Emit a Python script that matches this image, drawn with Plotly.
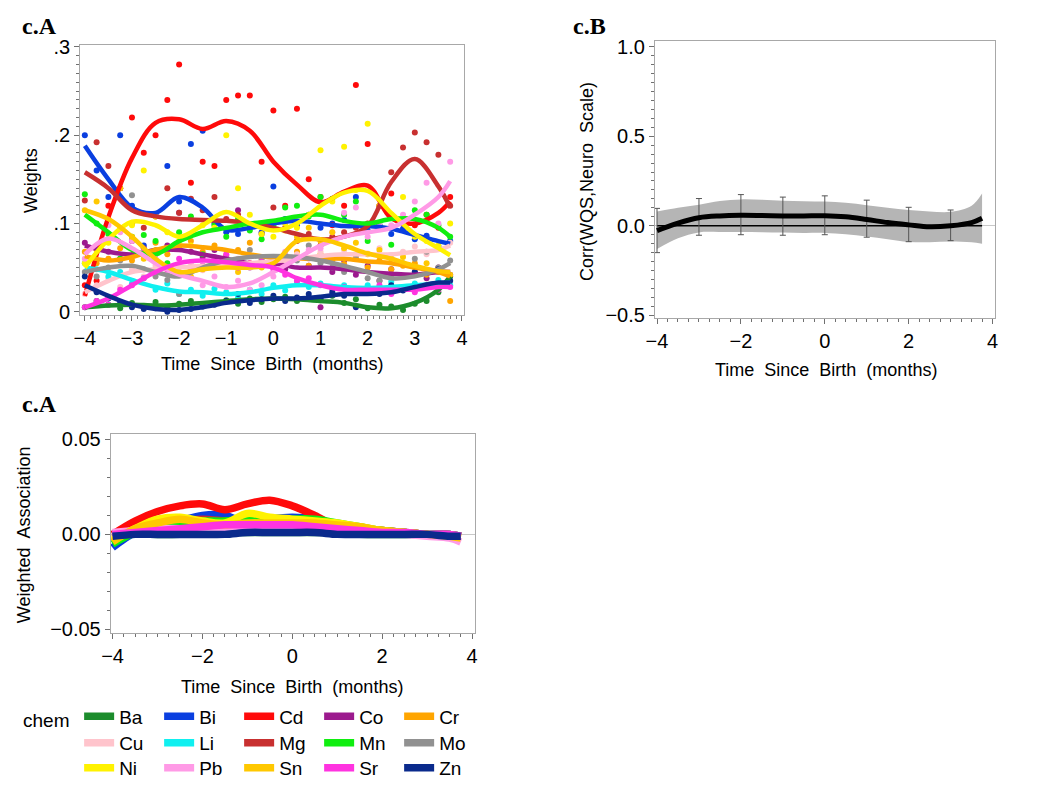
import plotly.graph_objects as go

# ---------------- data ----------------
CHEMS = ["Ba", "Bi", "Cd", "Co", "Cr", "Cu", "Li", "Mg", "Mn", "Mo", "Ni", "Pb", "Sn", "Sr", "Zn"]
COLORS = ["#1c8c2c", "#0a3fe0", "#ff0a0a", "#9c1a8e", "#ffa500", "#ffc4cc", "#10f0f0", "#c83030",
          "#10ee10", "#919191", "#fff200", "#ff9ae6", "#ffc800", "#ff33e0", "#0a2a8c"]

# time grid of the smoothed curves (months)
T_CURVE = [-4, -3.5, -3, -2.5, -2, -1.5, -1, -0.5, 0, 0.5, 1, 1.5, 2, 2.5, 3, 3.5, 3.75]
# time grid of the weight estimates (points)
T_PTS = [-4, -3.75, -3.5, -3.25, -3, -2.75, -2.5, -2.25, -2, -1.75, -1.5, -1.25, -1, -0.75, -0.5, -0.25,
         0, 0.25, 0.5, 0.75, 1, 1.25, 1.5, 1.75, 2, 2.25, 2.5, 2.75, 3, 3.25, 3.5, 3.75]

# smoothed weights (panel c.A top)
CURVE_BA = [0.005, 0.007, 0.008, 0.007, 0.008, 0.010, 0.012, 0.014, 0.015, 0.014, 0.012, 0.010, 0.005, 0.004, 0.010, 0.025, 0.040]
CURVE_BI = [0.188, 0.150, 0.118, 0.112, 0.130, 0.118, 0.093, 0.095, 0.100, 0.103, 0.100, 0.097, 0.097, 0.094, 0.087, 0.080, 0.077]
CURVE_CD = [0.018, 0.107, 0.174, 0.214, 0.218, 0.207, 0.216, 0.205, 0.170, 0.144, 0.124, 0.136, 0.143, 0.106, 0.100, 0.112, 0.125]
CURVE_CO = [0.075, 0.068, 0.065, 0.070, 0.070, 0.065, 0.060, 0.055, 0.055, 0.050, 0.050, 0.048, 0.045, 0.043, 0.042, 0.045, 0.045]
CURVE_CR = [0.063, 0.058, 0.062, 0.070, 0.075, 0.073, 0.070, 0.065, 0.061, 0.060, 0.060, 0.060, 0.057, 0.055, 0.050, 0.045, 0.040]
CURVE_CU = [0.022, 0.035, 0.045, 0.048, 0.050, 0.052, 0.053, 0.055, 0.057, 0.060, 0.063, 0.065, 0.065, 0.065, 0.068, 0.070, 0.075]
CURVE_LI = [0.050, 0.045, 0.036, 0.028, 0.023, 0.022, 0.020, 0.022, 0.027, 0.030, 0.030, 0.028, 0.027, 0.028, 0.030, 0.032, 0.033]
CURVE_MG = [0.158, 0.140, 0.115, 0.108, 0.105, 0.104, 0.103, 0.100, 0.095, 0.088, 0.082, 0.085, 0.097, 0.147, 0.173, 0.142, 0.118]
CURVE_MN = [0.110, 0.090, 0.070, 0.065, 0.080, 0.090, 0.095, 0.100, 0.103, 0.108, 0.110, 0.103, 0.100, 0.105, 0.105, 0.095, 0.085]
CURVE_MO = [0.045, 0.050, 0.052, 0.045, 0.040, 0.050, 0.058, 0.062, 0.063, 0.062, 0.058, 0.052, 0.045, 0.038, 0.040, 0.048, 0.055]
CURVE_NI = [0.050, 0.082, 0.102, 0.098, 0.085, 0.098, 0.113, 0.100, 0.092, 0.100, 0.120, 0.135, 0.137, 0.112, 0.088, 0.072, 0.064]
CURVE_PB = [0.065, 0.083, 0.072, 0.055, 0.042, 0.035, 0.028, 0.032, 0.045, 0.060, 0.075, 0.085, 0.090, 0.095, 0.110, 0.130, 0.148]
CURVE_SN = [0.115, 0.105, 0.085, 0.060, 0.045, 0.048, 0.050, 0.050, 0.055, 0.080, 0.082, 0.075, 0.066, 0.060, 0.052, 0.046, 0.045]
CURVE_SR = [0.005, 0.015, 0.030, 0.045, 0.055, 0.058, 0.056, 0.053, 0.050, 0.038, 0.030, 0.025, 0.025, 0.025, 0.025, 0.028, 0.028]
CURVE_ZN = [0.030, 0.018, 0.008, 0.003, 0.002, 0.005, 0.010, 0.013, 0.015, 0.015, 0.017, 0.020, 0.020, 0.022, 0.028, 0.033, 0.033]

# estimated weights (points)
POINTS_BA = [0.005, 0.012, 0.008, 0.004, 0.010, 0.006, 0.011, 0.005, 0.009, 0.012, 0.007, 0.010, 0.013, 0.009, 0.015, 0.011,
             0.014, 0.017, 0.012, 0.016, 0.013, 0.018, 0.010, 0.014, 0.004, 0.008, 0.006, 0.002, 0.009, 0.012, 0.022, 0.040]
POINTS_BI = [0.200, 0.160, 0.130, 0.200, 0.120, 0.075, 0.110, 0.165, 0.125, 0.190, 0.205, 0.100, 0.090, 0.088, 0.098, 0.090,
             0.142, 0.105, 0.098, 0.110, 0.095, 0.100, 0.104, 0.130, 0.092, 0.098, 0.088, 0.094, 0.082, 0.086, 0.074, 0.080]
POINTS_CD = [0.030, 0.035, 0.120, 0.140, 0.220, 0.180, 0.200, 0.240, 0.280, 0.146, 0.170, 0.165, 0.240, 0.245, 0.245, 0.170,
             0.228, 0.120, 0.230, 0.150, 0.130, 0.098, 0.120, 0.257, 0.190, 0.120, 0.134, 0.100, 0.098, 0.110, 0.095, 0.130]
POINTS_CO = [0.078, 0.072, 0.068, 0.060, 0.080, 0.072, 0.065, 0.075, 0.112, 0.068, 0.062, 0.070, 0.058, 0.115, 0.050, 0.062,
             0.055, 0.048, 0.060, 0.052, 0.005, 0.045, 0.058, 0.042, 0.052, 0.035, 0.048, 0.040, 0.045, 0.038, 0.050, 0.042]
POINTS_CR = [0.068, 0.055, 0.060, 0.072, 0.058, 0.068, 0.078, 0.065, 0.072, 0.080, 0.068, 0.075, 0.064, 0.070, 0.078, 0.058,
             0.062, 0.055, 0.068, 0.052, 0.065, 0.058, 0.054, 0.062, 0.050, 0.058, 0.048, 0.052, 0.055, 0.042, 0.048, 0.012]
POINTS_CU = [0.020, 0.030, 0.038, 0.028, 0.048, 0.040, 0.052, 0.045, 0.050, 0.055, 0.047, 0.058, 0.052, 0.060, 0.050, 0.058,
             0.062, 0.055, 0.065, 0.060, 0.068, 0.062, 0.070, 0.060, 0.066, 0.072, 0.062, 0.068, 0.074, 0.065, 0.072, 0.078]
POINTS_LI = [0.055, 0.048, 0.040, 0.045, 0.032, 0.038, 0.025, 0.032, 0.020, 0.025, 0.018, 0.026, 0.022, 0.016, 0.025, 0.020,
             0.030, 0.024, 0.034, 0.028, 0.032, 0.026, 0.030, 0.022, 0.030, 0.025, 0.034, 0.027, 0.032, 0.028, 0.036, 0.030]
POINTS_MG = [0.126, 0.192, 0.165, 0.140, 0.100, 0.095, 0.108, 0.140, 0.112, 0.128, 0.115, 0.130, 0.105, 0.110, 0.098, 0.088,
             0.118, 0.095, 0.080, 0.088, 0.075, 0.085, 0.090, 0.095, 0.100, 0.120, 0.158, 0.186, 0.203, 0.192, 0.178, 0.120]
POINTS_MN = [0.133, 0.100, 0.088, 0.060, 0.085, 0.087, 0.080, 0.055, 0.090, 0.108, 0.065, 0.098, 0.085, 0.105, 0.092, 0.082,
             0.098, 0.118, 0.120, 0.108, 0.130, 0.128, 0.110, 0.125, 0.080, 0.098, 0.076, 0.105, 0.115, 0.110, 0.098, 0.085]
POINTS_MO = [0.045, 0.040, 0.050, 0.058, 0.132, 0.048, 0.040, 0.036, 0.020, 0.048, 0.052, 0.060, 0.062, 0.058, 0.070, 0.060,
             0.062, 0.065, 0.058, 0.075, 0.055, 0.050, 0.045, 0.060, 0.038, 0.035, 0.042, 0.055, 0.060, 0.068, 0.050, 0.058]
POINTS_NI = [0.055, 0.070, 0.078, 0.095, 0.098, 0.160, 0.108, 0.090, 0.080, 0.075, 0.098, 0.095, 0.200, 0.140, 0.110, 0.088,
             0.085, 0.100, 0.095, 0.110, 0.183, 0.125, 0.187, 0.138, 0.213, 0.120, 0.110, 0.130, 0.085, 0.080, 0.075, 0.100]
POINTS_PB = [0.060, 0.075, 0.098, 0.090, 0.080, 0.068, 0.060, 0.045, 0.042, 0.048, 0.030, 0.040, 0.028, 0.035, 0.025, 0.030,
             0.040, 0.068, 0.062, 0.070, 0.072, 0.090, 0.112, 0.118, 0.085, 0.100, 0.098, 0.110, 0.125, 0.146, 0.100, 0.170]
POINTS_SN = [0.115, 0.125, 0.105, 0.140, 0.085, 0.060, 0.070, 0.050, 0.045, 0.040, 0.048, 0.055, 0.052, 0.045, 0.055, 0.050,
             0.060, 0.092, 0.085, 0.095, 0.080, 0.090, 0.072, 0.078, 0.065, 0.070, 0.060, 0.062, 0.050, 0.055, 0.045, 0.042]
POINTS_SR = [0.005, 0.012, 0.008, 0.025, 0.030, 0.038, 0.045, 0.048, 0.060, 0.050, 0.052, 0.062, 0.065, 0.050, 0.055, 0.062,
             0.048, 0.042, 0.035, 0.038, 0.030, 0.025, 0.028, 0.022, 0.025, 0.030, 0.020, 0.028, 0.022, 0.030, 0.025, 0.028]
POINTS_ZN = [0.040, 0.022, 0.015, 0.010, 0.005, 0.003, 0.004, 0.000, 0.002, 0.003, 0.006, 0.008, 0.012, 0.020, 0.010, 0.014,
             0.018, 0.012, 0.016, 0.020, 0.015, 0.022, 0.018, 0.005, 0.022, 0.020, 0.030, 0.024, 0.045, 0.028, 0.048, 0.035]

# weighted association (panel c.A bottom)
ASSOC_BA = [-0.001, 0.000, 0.000, 0.000, 0.001, 0.001, 0.001, 0.001, 0.001, 0.001, 0.001, 0.000, 0.000, 0.000, 0.000, 0.000, -0.001]
ASSOC_BI = [-0.007, 0.001, 0.004, 0.007, 0.010, 0.010, 0.006, 0.008, 0.009, 0.008, 0.004, 0.003, 0.002, 0.001, 0.000, -0.001, -0.001]
ASSOC_CD = [0.000, 0.007, 0.012, 0.015, 0.016, 0.013, 0.016, 0.018, 0.015, 0.010, 0.004, 0.003, 0.002, 0.001, 0.000, -0.001, -0.001]
ASSOC_CO = [0.000, 0.002, 0.003, 0.004, 0.004, 0.004, 0.004, 0.004, 0.004, 0.003, 0.003, 0.002, 0.001, 0.001, 0.000, 0.000, -0.001]
ASSOC_CR = [-0.002, 0.002, 0.005, 0.006, 0.006, 0.005, 0.005, 0.005, 0.005, 0.005, 0.004, 0.003, 0.002, 0.001, 0.000, -0.001, -0.001]
ASSOC_CU = [0.000, 0.001, 0.002, 0.003, 0.003, 0.004, 0.004, 0.004, 0.004, 0.004, 0.003, 0.002, 0.001, 0.000, 0.000, -0.001, -0.002]
ASSOC_LI = [0.000, 0.001, 0.001, 0.002, 0.002, 0.002, 0.002, 0.002, 0.002, 0.002, 0.002, 0.001, 0.001, 0.000, 0.000, 0.000, -0.001]
ASSOC_MG = [-0.001, 0.002, 0.005, 0.007, 0.008, 0.007, 0.006, 0.005, 0.004, 0.004, 0.003, 0.002, 0.001, 0.001, 0.000, 0.000, -0.001]
ASSOC_MN = [-0.005, 0.001, 0.004, 0.006, 0.007, 0.007, 0.008, 0.007, 0.008, 0.008, 0.006, 0.004, 0.002, 0.001, 0.000, -0.001, -0.001]
ASSOC_MO = [0.000, 0.001, 0.002, 0.002, 0.002, 0.003, 0.003, 0.003, 0.003, 0.003, 0.002, 0.001, 0.001, 0.000, 0.000, 0.000, -0.001]
ASSOC_NI = [-0.003, 0.003, 0.008, 0.009, 0.007, 0.006, 0.011, 0.009, 0.008, 0.007, 0.006, 0.004, 0.002, 0.001, 0.000, -0.001, -0.001]
ASSOC_PB = [0.001, 0.002, 0.003, 0.003, 0.003, 0.003, 0.003, 0.003, 0.003, 0.003, 0.003, 0.002, 0.001, 0.000, -0.001, -0.002, -0.004]
ASSOC_SN = [-0.004, 0.003, 0.006, 0.008, 0.006, 0.005, 0.006, 0.006, 0.006, 0.006, 0.005, 0.004, 0.002, 0.001, 0.000, -0.001, -0.002]
ASSOC_SR = [0.000, 0.001, 0.002, 0.003, 0.004, 0.005, 0.005, 0.005, 0.005, 0.004, 0.003, 0.002, 0.001, 0.001, 0.000, 0.000, -0.001]
ASSOC_ZN = [-0.001, 0.000, 0.000, 0.000, 0.000, 0.000, 0.001, 0.001, 0.001, 0.001, 0.000, 0.000, 0.000, 0.000, 0.000, -0.001, -0.001]

# panel c.B: correlation of WQS index with neuro scale
CORR = [-0.027, 0.015, 0.045, 0.055, 0.058, 0.057, 0.055, 0.055, 0.056, 0.050, 0.035, 0.018, 0.005, -0.006, 0.000, 0.018, 0.042]
CORR_UPPER = [0.079, 0.100, 0.118, 0.138, 0.147, 0.145, 0.140, 0.137, 0.135, 0.128, 0.115, 0.100, 0.088, 0.080, 0.078, 0.112, 0.180]
CORR_LOWER = [-0.130, -0.070, -0.037, -0.035, -0.035, -0.036, -0.038, -0.040, -0.040, -0.048, -0.060, -0.075, -0.090, -0.092, -0.088, -0.092, -0.100]
ERR_X = [-4, -3, -2, -1, 0, 1, 2, 3]
ERR_MID = [-0.027, 0.045, 0.058, 0.055, 0.056, 0.035, 0.005, 0.000]
ERR_HI = [0.097, 0.152, 0.174, 0.160, 0.167, 0.143, 0.103, 0.088]
ERR_LO = [-0.150, -0.053, -0.050, -0.053, -0.050, -0.064, -0.089, -0.083]

CURVES = [CURVE_BA, CURVE_BI, CURVE_CD, CURVE_CO, CURVE_CR, CURVE_CU, CURVE_LI, CURVE_MG,
          CURVE_MN, CURVE_MO, CURVE_NI, CURVE_PB, CURVE_SN, CURVE_SR, CURVE_ZN]
POINTS = [POINTS_BA, POINTS_BI, POINTS_CD, POINTS_CO, POINTS_CR, POINTS_CU, POINTS_LI, POINTS_MG,
          POINTS_MN, POINTS_MO, POINTS_NI, POINTS_PB, POINTS_SN, POINTS_SR, POINTS_ZN]
ASSOCS = [ASSOC_BA, ASSOC_BI, ASSOC_CD, ASSOC_CO, ASSOC_CR, ASSOC_CU, ASSOC_LI, ASSOC_MG,
          ASSOC_MN, ASSOC_MO, ASSOC_NI, ASSOC_PB, ASSOC_SN, ASSOC_SR, ASSOC_ZN]

# ---------------- figure ----------------
W, H = 1050, 787
SANS = "Liberation Sans, Arial, sans-serif"
SERIF = "Liberation Serif, Times New Roman, serif"
FRAME = "#a8a8a8"
TICKC = "#707070"
TICK_SIZE = 20
TITLE_SIZE = 18
LEG_SIZE = 19


def fx(p):
    return p / W


def fy(p):
    return 1 - p / H


fig = go.Figure()

# --- top-left: points then smooth curves
for c, col, pts in zip(CHEMS, COLORS, POINTS):
    fig.add_trace(go.Scatter(x=T_PTS, y=pts, mode="markers", marker=dict(color=col, size=6),
                             showlegend=False, xaxis="x", yaxis="y", hoverinfo="skip"))
for c, col, cur in zip(CHEMS, COLORS, CURVES):
    fig.add_trace(go.Scatter(x=T_CURVE, y=cur, mode="lines", line=dict(color=col, width=4.5, shape="spline", smoothing=1.0),
                             showlegend=False, xaxis="x", yaxis="y", name=c))

# --- top-right
fig.add_trace(go.Scatter(x=T_CURVE, y=CORR_UPPER, mode="lines", line=dict(width=0, shape="spline"),
                         showlegend=False, xaxis="x2", yaxis="y2", hoverinfo="skip"))
fig.add_trace(go.Scatter(x=T_CURVE, y=CORR_LOWER, mode="lines", line=dict(width=0, shape="spline"),
                         fill="tonexty", fillcolor="#b5b5b5", showlegend=False, xaxis="x2", yaxis="y2", hoverinfo="skip"))
fig.add_trace(go.Scatter(x=[T_CURVE[0], T_CURVE[-1]], y=[0, 0], mode="lines", line=dict(color="black", width=1.3),
                         showlegend=False, xaxis="x2", yaxis="y2", hoverinfo="skip"))
fig.add_trace(go.Scatter(x=ERR_X, y=ERR_MID, mode="markers", marker=dict(size=1, opacity=0),
                         error_y=dict(type="data", symmetric=False,
                                      array=[h - m for h, m in zip(ERR_HI, ERR_MID)],
                                      arrayminus=[m - l for m, l in zip(ERR_MID, ERR_LO)],
                                      color="#555555", thickness=1, width=3),
                         showlegend=False, xaxis="x2", yaxis="y2"))
fig.add_trace(go.Scatter(x=T_CURVE, y=CORR, mode="lines", line=dict(color="black", width=5, shape="spline"),
                         showlegend=False, xaxis="x2", yaxis="y2"))

# --- bottom-left: weighted associations (carry the legend)
for i, (c, col, a) in enumerate(zip(CHEMS, COLORS, ASSOCS)):
    leg = "legend" if i < 5 else ("legend2" if i < 10 else "legend3")
    fig.add_trace(go.Scatter(x=T_CURVE, y=a, mode="lines", name=c,
                             line=dict(color=col, width=7.5, shape="spline", smoothing=1.0),
                             showlegend=True, legend=leg, xaxis="x3", yaxis="y3"))

axis_common = dict(showline=True, mirror=True, linecolor=FRAME, linewidth=1, showgrid=False, zeroline=False,
                   ticks="outside", ticklen=5, tickcolor=TICKC, tickwidth=1,
                   tickfont=dict(family=SANS, size=TICK_SIZE, color="black"))

fig.update_layout(
    width=W, height=H, margin=dict(l=0, r=0, t=0, b=0),
    paper_bgcolor="white", plot_bgcolor="white",
    xaxis=dict(axis_common, domain=[fx(71), fx(460)], range=[-4.1, 4.05], anchor="y", dtick=1, tick0=0,
               minor=dict(dtick=0.125, ticklen=3, tickcolor=TICKC, ticks="outside")),
    yaxis=dict(axis_common, domain=[fy(313), fy(37)], range=[-0.004, 0.302], anchor="x",
               tickvals=[0, 0.1, 0.2, 0.3], ticktext=["0", ".1", ".2", ".3"],
               minor=dict(dtick=0.01, ticklen=3, tickcolor=TICKC, ticks="outside")),
    xaxis2=dict(axis_common, domain=[fx(653), fx(997)], range=[-4.05, 4.05], anchor="y2", dtick=2, tick0=0,
                minor=dict(dtick=0.25, ticklen=3, tickcolor=TICKC, ticks="outside")),
    yaxis2=dict(axis_common, domain=[fy(316), fy(33)], range=[-0.516, 1.03], anchor="x2", dtick=0.5, tick0=0,
                tickformat=".1f", zeroline=True, zerolinecolor="#c8c8c8", zerolinewidth=1,
                minor=dict(dtick=0.05, ticklen=3, tickcolor=TICKC, ticks="outside")),
    xaxis3=dict(axis_common, domain=[fx(102), fx(471)], range=[-4.04, 4.07], anchor="y3", dtick=2, tick0=0,
                minor=dict(dtick=0.25, ticklen=3, tickcolor=TICKC, ticks="outside")),
    yaxis3=dict(axis_common, domain=[fy(638), fy(434)], range=[-0.052, 0.053], anchor="x3", dtick=0.05, tick0=0,
                tickformat=".2f", zeroline=True, zerolinecolor="#c8c8c8", zerolinewidth=1,
                minor=dict(dtick=0.01, ticklen=3, tickcolor=TICKC, ticks="outside")),
    showlegend=True,
)

leg_common = dict(orientation="h", xanchor="left", yanchor="middle", x=fx(70),
                  font=dict(family=SANS, size=LEG_SIZE, color="black"), bgcolor="rgba(0,0,0,0)",
                  entrywidth=35, entrywidthmode="pixels", itemwidth=30, traceorder="normal",
                  itemclick=False, itemdoubleclick=False)
fig.update_layout(legend=dict(leg_common, y=fy(723)),
                  legend2=dict(leg_common, y=fy(750)),
                  legend3=dict(leg_common, y=fy(776)))

ann = []
ann.append(dict(text="<b>c.A</b>", x=fx(10), y=fy(17), xanchor="left", yanchor="middle",
                font=dict(family=SERIF, size=24, color="black")))
ann.append(dict(text="<b>c.B</b>", x=fx(568), y=fy(17), xanchor="left", yanchor="middle",
                font=dict(family=SERIF, size=24, color="black")))
ann.append(dict(text="<b>c.A</b>", x=fx(10), y=fy(404), xanchor="left", yanchor="middle",
                font=dict(family=SERIF, size=24, color="black")))
ann.append(dict(text="Weights", x=fx(21), y=fy(175), textangle=-90, xanchor="center", yanchor="middle",
                font=dict(family=SANS, size=TITLE_SIZE, color="black")))
ann.append(dict(text="Time  Since  Birth  (months)", x=fx(265), y=fy(363), xanchor="center", yanchor="middle",
                font=dict(family=SANS, size=TITLE_SIZE, color="black")))
ann.append(dict(text="Corr(WQS,Neuro  Scale)", x=fx(584), y=fy(176), textangle=-90, xanchor="center", yanchor="middle",
                font=dict(family=SANS, size=TITLE_SIZE, color="black")))
ann.append(dict(text="Time  Since  Birth  (months)", x=fx(826), y=fy(369), xanchor="center", yanchor="middle",
                font=dict(family=SANS, size=TITLE_SIZE, color="black")))
ann.append(dict(text="Weighted  Association", x=fx(15), y=fy(537), textangle=-90, xanchor="center", yanchor="middle",
                font=dict(family=SANS, size=TITLE_SIZE, color="black")))
ann.append(dict(text="Time  Since  Birth  (months)", x=fx(286), y=fy(693), xanchor="center", yanchor="middle",
                font=dict(family=SANS, size=TITLE_SIZE, color="black")))
ann.append(dict(text="chem", x=fx(11), y=fy(727), xanchor="left", yanchor="middle",
                font=dict(family=SANS, size=LEG_SIZE, color="black")))
for a in ann:
    a.update(xref="paper", yref="paper", showarrow=False)
fig.update_layout(annotations=ann)

# remove the default page margin so the 1050x787 figure fills the window exactly
fig.write_html("out.html",
               config={"displayModeBar": False},
               post_script="document.body.style.margin='0px';document.body.style.overflow='hidden';")
